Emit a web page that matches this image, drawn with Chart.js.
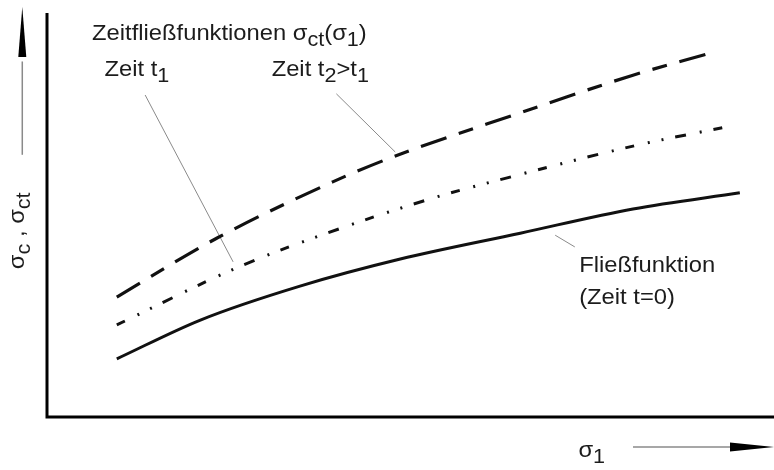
<!DOCTYPE html>
<html>
<head>
<meta charset="utf-8">
<script src="https://cdn.jsdelivr.net/npm/chart.js@4"></script>
<style>
  html, body { margin: 0; padding: 0; background: #fff; }
  #wrap { width: 774px; height: 470px; }
</style>
</head>
<body>
<div id="wrap"><canvas id="chart"></canvas></div>
<script>
// sigma_1 (x) and sigma_c / sigma_ct (y), arbitrary units 0..100
const fliessX = [9.6, 21.1, 34.8, 48.6, 65.1, 80.6, 95.3];
const fliessY = [14.4, 24.0, 32.4, 39.1, 45.5, 51.5, 55.5];

const zeitT1X = [9.6, 26.3, 38.5, 53.1, 63.3, 81.2, 94.0];
const zeitT1Y = [22.8, 37.1, 45.5, 54.2, 59.2, 67.3, 72.0];

const zeitT2X = [9.6, 23.4, 39.3, 47.6, 65.1, 80.6, 90.9];
const zeitT2Y = [29.7, 44.3, 58.2, 64.4, 75.3, 84.6, 89.9];

// leader lines from labels to curves
const leaderT1 = [[13.5, 79.7], [25.6, 38.4]];
const leaderT2 = [[39.8, 80.0], [47.9, 65.6]];
const leaderFliess = [[69.9, 45.0], [72.6, 42.1]];

function toPoints(xs, ys) {
    return xs.map((x, i) => ({x: x, y: ys[i]}));
}
function pairToPoints(pair) {
    return pair.map(p => ({x: p[0], y: p[1]}));
}

const FAMILY = '"Liberation Sans", Arial, sans-serif';
const MAIN_SIZE = 22;
const SUB_SIZE = 20;
const TEXT_COLOR = '#1c1c1c';
const STRETCH = 1.08;
const SUB_SHIFT = 6;

// text labels, anchored at left/baseline in data units
const labels = [
    {x: 6.2, y: 93.3, parts: [['Zeitfließfunktionen σ', 0], ['ct', 1], ['(σ', 0], ['1', 1], [')', 0]]},
    {x: 7.9, y: 84.4, parts: [['Zeit t', 0], ['1', 1]]},
    {x: 30.9, y: 84.4, parts: [['Zeit t', 0], ['2', 1], ['>t', 0], ['1', 1]]},
    {x: 73.2, y: 35.9, parts: [['Fließfunktion', 0]]},
    {x: 73.2, y: 28.0, parts: [['(Zeit t=0)', 0]]},
    {x: 73.1, y: -10.0, parts: [['σ', 0], ['1', 1]]}
];
const yLabel = {x: -3.1, y: 36.6, parts: [['σ', 0], ['c', 1], [' , σ', 0], ['ct', 1]]};

function drawRich(ctx, parts, x, y, rotate) {
    ctx.save();
    ctx.translate(x, y);
    if (rotate) ctx.rotate(-Math.PI / 2);
    ctx.scale(STRETCH, 1);
    ctx.fillStyle = TEXT_COLOR;
    ctx.textBaseline = 'alphabetic';
    ctx.textAlign = 'left';
    let cx = 0;
    parts.forEach(p => {
        ctx.font = (p[1] ? SUB_SIZE : MAIN_SIZE) + 'px ' + FAMILY;
        ctx.fillText(p[0], cx, p[1] ? SUB_SHIFT : 0);
        cx += ctx.measureText(p[0]).width;
    });
    ctx.restore();
}

function arrowHead(ctx, tipX, tipY, dx, dy, len, half) {
    const bx = tipX - dx * len, by = tipY - dy * len;
    ctx.beginPath();
    ctx.moveTo(tipX, tipY);
    ctx.lineTo(bx - dy * half, by + dx * half);
    ctx.lineTo(bx + dy * half, by - dx * half);
    ctx.closePath();
    ctx.fill();
}

const decorPlugin = {
    id: 'decor',
    afterDatasetsDraw(chart) {
        const ctx = chart.ctx;
        const xs = chart.scales.x, ys = chart.scales.y;
        const a = chart.chartArea;
        ctx.save();
        // axes
        ctx.strokeStyle = '#000';
        ctx.lineWidth = 3;
        ctx.beginPath();
        ctx.moveTo(a.left, a.top);
        ctx.lineTo(a.left, a.bottom);
        ctx.lineTo(a.right, a.bottom);
        ctx.stroke();

        // sigma_1 arrow
        const sy = ys.getPixelForValue(-7.4);
        ctx.strokeStyle = '#8a8a8a';
        ctx.lineWidth = 1.5;
        ctx.beginPath();
        ctx.moveTo(xs.getPixelForValue(80.6), sy);
        ctx.lineTo(xs.getPixelForValue(94), sy);
        ctx.stroke();
        ctx.fillStyle = '#000';
        arrowHead(ctx, xs.getPixelForValue(100), sy, 1, 0, 44, 4.5);

        // sigma_c arrow
        const ax = xs.getPixelForValue(-3.4);
        ctx.beginPath();
        ctx.moveTo(ax, ys.getPixelForValue(64.9));
        ctx.lineTo(ax, ys.getPixelForValue(88));
        ctx.stroke();
        arrowHead(ctx, ax, ys.getPixelForValue(101.5), 0, -1, 50, 4);
        ctx.restore();

        labels.forEach(l => drawRich(ctx, l.parts, xs.getPixelForValue(l.x), ys.getPixelForValue(l.y), false));
        drawRich(ctx, yLabel.parts, xs.getPixelForValue(yLabel.x), ys.getPixelForValue(yLabel.y), true);
    }
};

const lineBase = {
    showLine: true,
    pointRadius: 0,
    fill: false,
    borderColor: '#111',
    borderCapStyle: 'butt',
    cubicInterpolationMode: 'monotone'
};

new Chart(document.getElementById('chart'), {
    type: 'scatter',
    data: {
        datasets: [
            Object.assign({}, lineBase, {label: 'Fließfunktion', data: toPoints(fliessX, fliessY), borderWidth: 3}),
            Object.assign({}, lineBase, {label: 'Zeit t1', data: toPoints(zeitT1X, zeitT1Y), borderWidth: 3,
                borderDash: [9, 14, 2, 12, 2, 12, 11, 14, 2, 12]}),
            Object.assign({}, lineBase, {label: 'Zeit t2', data: toPoints(zeitT2X, zeitT2Y), borderWidth: 3.2,
                borderDash: [27, 13, 15, 13]}),
            {label: 'l1', data: pairToPoints(leaderT1), showLine: true, pointRadius: 0, borderColor: '#8a8a8a', borderWidth: 1},
            {label: 'l2', data: pairToPoints(leaderT2), showLine: true, pointRadius: 0, borderColor: '#8a8a8a', borderWidth: 1},
            {label: 'l3', data: pairToPoints(leaderFliess), showLine: true, pointRadius: 0, borderColor: '#8a8a8a', borderWidth: 1}
        ]
    },
    options: {
        responsive: true,
        maintainAspectRatio: false,
        animation: false,
        layout: {padding: {left: 47, top: 13, right: 0, bottom: 53}},
        plugins: {legend: {display: false}, tooltip: {enabled: false}},
        scales: {
            x: {type: 'linear', display: false, min: 0, max: 100},
            y: {type: 'linear', display: false, min: 0, max: 100}
        }
    },
    plugins: [decorPlugin]
});
</script>
</body>
</html>
